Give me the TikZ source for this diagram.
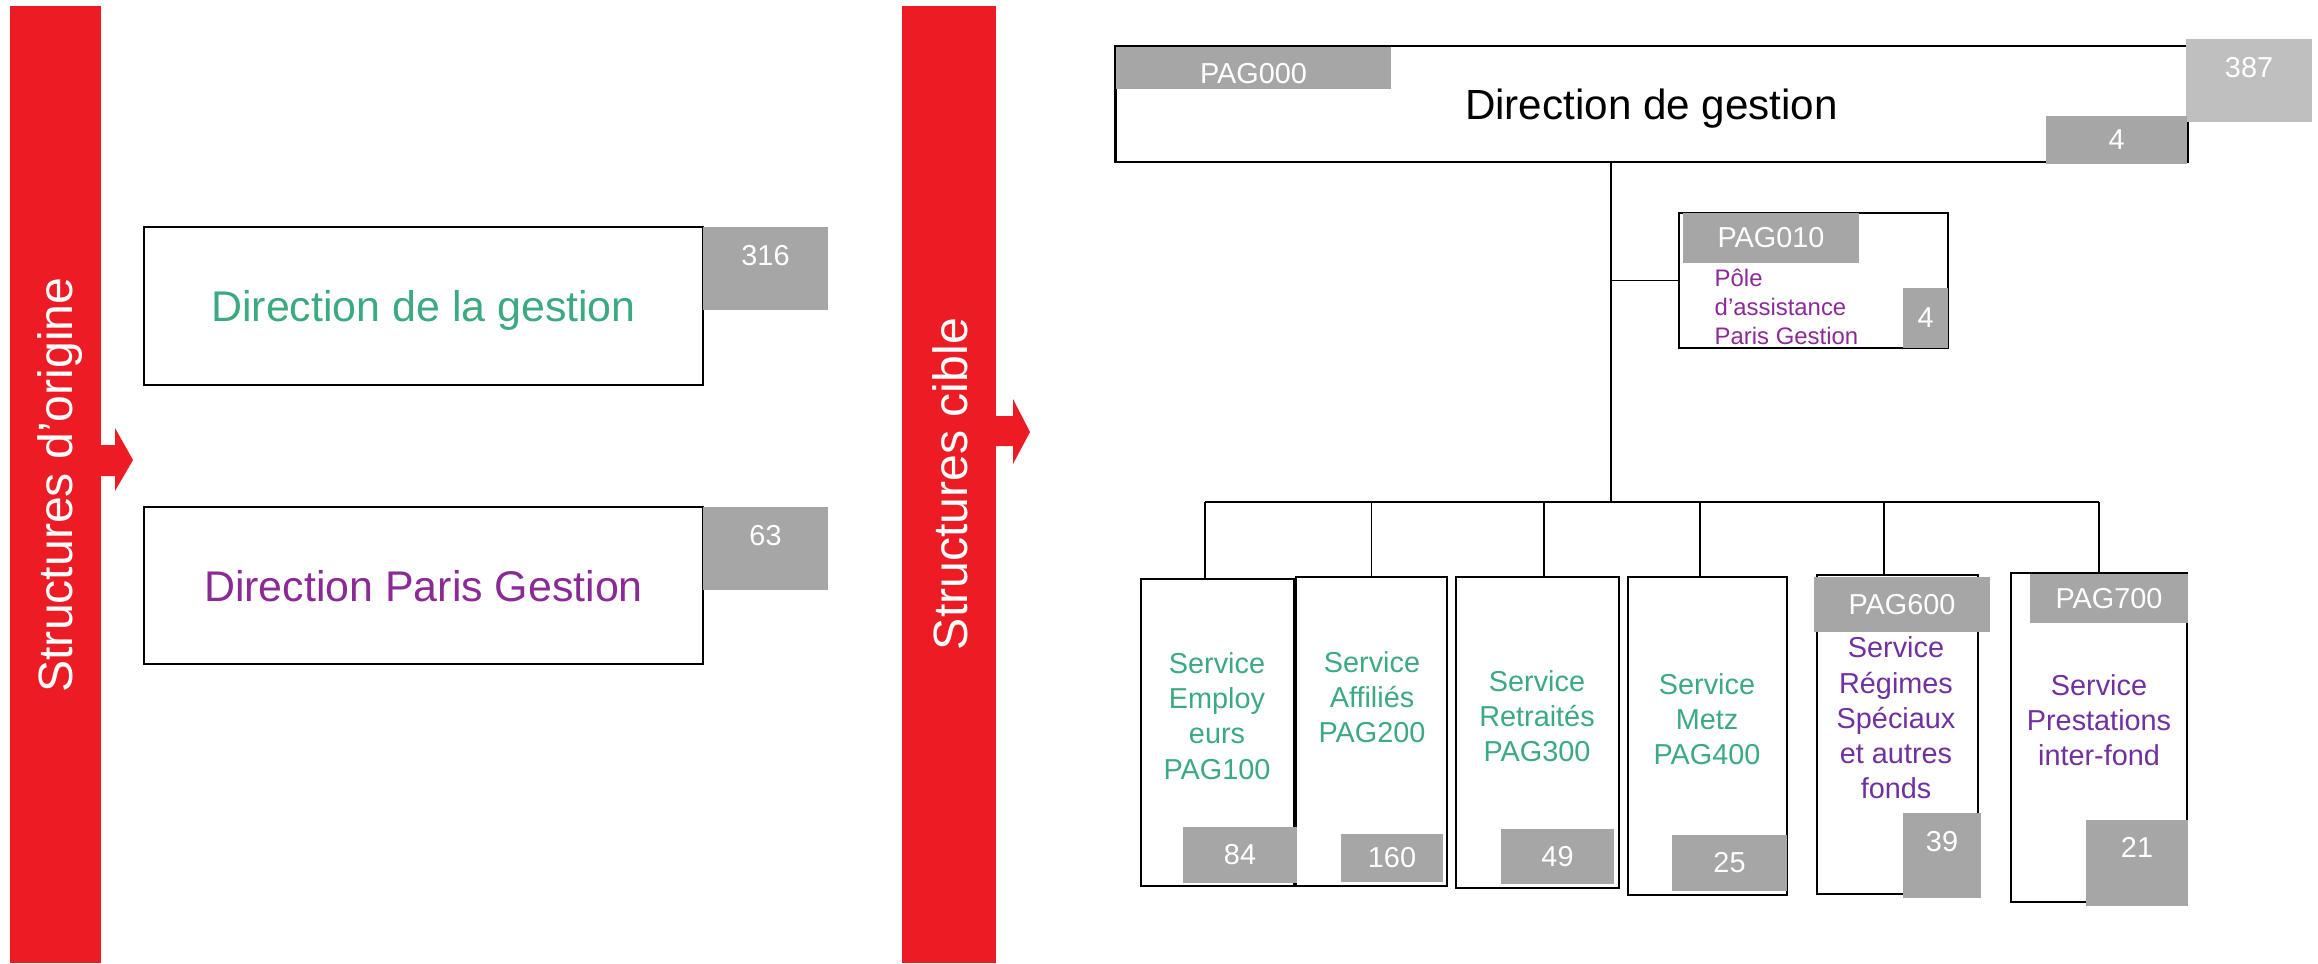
\documentclass[tikz,border=0pt]{standalone}
\usepackage{fontspec}
\setmainfont{Liberation Sans}
\usepackage{xcolor}
\usepackage{tikz}

\definecolor{barred}{RGB}{237,28,36}
\definecolor{taggray}{RGB}{166,166,166}
\definecolor{taglight}{RGB}{191,191,191}
\definecolor{svcgreen}{RGB}{60,170,128}
\definecolor{dirpurple}{RGB}{139,42,150}
\definecolor{svcpurple}{RGB}{112,48,160}

\begin{document}
\begin{tikzpicture}[
  x=0.01cm, y=-0.01cm,
  orgbox/.style={draw,line width=0.75pt,inner sep=0,text depth=0pt},
  numtag/.style={fill=taggray,inner sep=0,text=white,font=\fontsize{8.2}{10}\selectfont},
  svc/.style={align=center,inner sep=0,font=\fontsize{8.2}{10}\selectfont},
  bartext/.style={rotate=90,text=white,font=\fontsize{13.7}{16}\selectfont},
  link/.style={line width=0.4pt}
]
  \useasboundingbox (0,0) rectangle (2318,963);

  % red bars with their arrows
  \fill[barred] (10,6) rectangle (101,963);
  \fill[barred] (101,445) -- (115,445) -- (115,428) -- (133,460) -- (115,491)
    -- (115,476) -- (101,476) -- cycle;
  \fill[barred] (902,6) rectangle (996,963);
  \fill[barred] (996,416) -- (1013,416) -- (1013,399) -- (1030,432) -- (1013,464)
    -- (1013,446) -- (996,446) -- cycle;
  \node[bartext] (origine) at (60,485) {Structures d’origine};
  \node[bartext] (cible)   at (950,484) {Structures cible};

  % structures d'origine
  \node[orgbox,minimum width=5.59cm,minimum height=1.58cm,text=svcgreen,
        font=\fontsize{12.2}{14}\selectfont] (oldA) at (423.5,306) {Direction de la gestion};
  \node[orgbox,minimum width=5.59cm,minimum height=1.57cm,text=dirpurple,
        font=\fontsize{12.2}{14}\selectfont] (oldB) at (423.5,585.5) {Direction Paris Gestion};
  \node[numtag,minimum width=1.25cm,text height=0.38cm,text depth=0.45cm] (nA) at (765.5,268.5) {316};
  \node[numtag,minimum width=1.25cm,text height=0.38cm,text depth=0.45cm] (nB) at (765.5,548.5) {63};

  % structure cible
  \node[orgbox,minimum width=10.71cm,minimum height=1.16cm,
        font=\fontsize{12}{14}\selectfont] (pag000) at (1651.5,104) {Direction de gestion};
  \node[numtag,minimum width=2.75cm,text height=0.36cm,text depth=0.06cm] (c000) at (1253.5,68) {PAG000};
  \node[numtag,fill=taglight,minimum width=1.26cm,text height=0.38cm,text depth=0.45cm] (total) at (2249,80.5) {387};
  \node[numtag,minimum width=1.41cm,minimum height=0.48cm] (n000) at (2116.5,140) {4};

  \node[orgbox,minimum width=2.69cm,minimum height=1.35cm] (pag010) at (1813.5,280.5) {};
  \node[numtag,minimum width=1.76cm,minimum height=0.5cm] (c010) at (1771,238) {PAG010};
  \node[numtag,minimum width=0.45cm,minimum height=0.6cm] (n010) at (1925.5,318) {4};
  \node[align=left,anchor=west,inner sep=0,text=dirpurple,
        font=\fontsize{6.8}{8.3}\selectfont] (t010) at (1714,307) {Pôle\\d’assistance\\Paris Gestion};

  % services
  \node[orgbox,minimum width=1.53cm,minimum height=3.07cm] (s1) at (1217.5,732.5) {};
  \node[orgbox,minimum width=1.51cm,minimum height=3.09cm] (s2) at (1371.5,731.5) {};
  \node[orgbox,minimum width=1.63cm,minimum height=3.11cm] (s3) at (1537.5,732.5) {};
  \node[orgbox,minimum width=1.59cm,minimum height=3.18cm] (s4) at (1707.5,736) {};
  \node[orgbox,minimum width=1.61cm,minimum height=3.19cm] (s5) at (1897.5,734.5) {};
  \node[orgbox,minimum width=1.76cm,minimum height=3.29cm] (s6) at (2099,737.5) {};

  \node[svc,text=svcgreen]  (t1) at (1217,716) {Service\\Employ\\eurs\\PAG100};
  \node[svc,text=svcgreen]  (t2) at (1372,697) {Service\\Affiliés\\PAG200};
  \node[svc,text=svcgreen]  (t3) at (1537,716) {Service\\Retraités\\PAG300};
  \node[svc,text=svcgreen]  (t4) at (1707,719) {Service\\Metz\\PAG400};
  \node[svc,text=svcpurple] (t5) at (1896,718) {Service\\Régimes\\Spéciaux\\et autres\\fonds};
  \node[svc,text=svcpurple] (t6) at (2099,720) {Service\\Prestations\\inter-fond};

  \node[numtag,minimum width=1.76cm,minimum height=0.55cm] (c600) at (1902,604.5) {PAG600};
  \node[numtag,minimum width=1.58cm,minimum height=0.49cm] (c700) at (2109,598.5) {PAG700};

  \node[numtag,minimum width=1.14cm,minimum height=0.56cm] (n1) at (1240,855) {84};
  \node[numtag,minimum width=1.02cm,minimum height=0.48cm] (n2) at (1392,858) {160};
  \node[numtag,minimum width=1.13cm,minimum height=0.55cm] (n3) at (1557.5,856.5) {49};
  \node[numtag,minimum width=1.15cm,minimum height=0.56cm] (n4) at (1729.5,863) {25};
  \node[numtag,minimum width=0.78cm,text height=0.38cm,text depth=0.47cm] (n5) at (1942,855.5) {39};
  \node[numtag,minimum width=1.02cm,text height=0.37cm,text depth=0.49cm] (n6) at (2137,863) {21};

  % liaisons
  \coordinate (trunk) at (1611,502);
  \draw[link] (pag000.south -| trunk) -- (trunk);
  \draw[link] (pag010.west) -- (pag010.west -| trunk);
  \draw[link] ([xshift=-0.125cm]s1.north |- trunk) -- (s6.north |- trunk);
  \draw[link] ([xshift=-0.125cm]s1.north) -- ([xshift=-0.125cm]s1.north |- trunk);
  \draw[link] (s2.north) -- (s2.north |- trunk);
  \draw[link] ([xshift=0.065cm]s3.north) -- ([xshift=0.065cm]s3.north |- trunk);
  \draw[link] ([xshift=-0.075cm]s4.north) -- ([xshift=-0.075cm]s4.north |- trunk);
  \draw[link] ([xshift=-0.135cm]s5.north) -- ([xshift=-0.135cm]s5.north |- trunk);
  \draw[link] (s6.north) -- (s6.north |- trunk);
\end{tikzpicture}
\end{document}
